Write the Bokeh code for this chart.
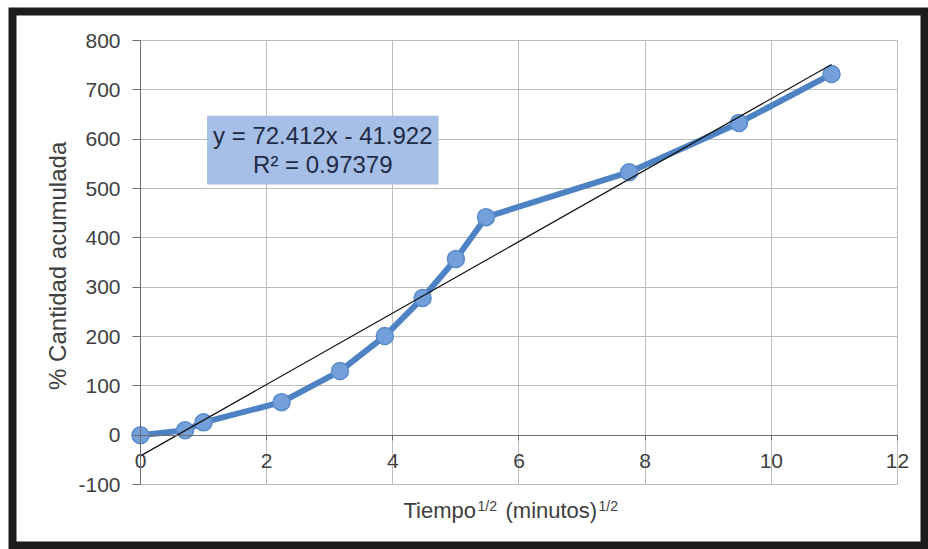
from bokeh.plotting import figure
from bokeh.models import Range1d, Label, FixedTicker, CustomJSTickFormatter, Grid
from bokeh.embed import file_html
from bokeh.resources import INLINE

# ---- data ----
t_sqrt = [0.0, 0.707, 1.0, 2.236, 3.162, 3.873, 4.472, 5.0, 5.477, 7.746, 9.487, 10.954]
cum_pct = [0, 10, 26, 67, 130, 201, 278, 357, 442, 533, 633, 732]
slope = 72.412
intercept = -41.922
r2 = 0.97379
x_ticks = [0, 2, 4, 6, 8, 10, 12]
y_ticks = [-100, 0, 100, 200, 300, 400, 500, 600, 700, 800]
x_lim = (0, 12)
y_lim = (-100, 800)

FONT = "Liberation Sans"
TXT = "#404040"
W, H = 928, 549

# the frame fills the whole card; the axes cross at the origin
p = figure(width=W, height=H, output_backend="svg", toolbar_location=None,
           x_range=Range1d(-2.029, 12.428), y_range=Range1d(-223.6, 858.8),
           min_border_left=12, min_border_right=4, min_border_top=11, min_border_bottom=4)
p.outline_line_color = "#1c1c1c"
p.outline_line_width = 8
p.outline_line_join = "miter"
p.background_fill_color = "white"
p.border_fill_color = "white"

# grids limited to the data box
p.xgrid.ticker = FixedTicker(ticks=x_ticks)
p.ygrid.ticker = FixedTicker(ticks=y_ticks)
has_cross = "cross_bounds" in Grid.properties()
for g, cb in ((p.xgrid, y_lim), (p.ygrid, x_lim)):
    g.grid_line_color = "#bdbdbd"
    g.grid_line_width = 1
    if has_cross:
        g.cross_bounds = cb
    else:
        g.visible = False
if not has_cross:
    p.segment(x0=x_ticks, y0=[y_lim[0]] * len(x_ticks), x1=x_ticks, y1=[y_lim[1]] * len(x_ticks),
              line_color="#bdbdbd", line_width=1)
    p.segment(x0=[x_lim[0]] * len(y_ticks), y0=y_ticks, x1=[x_lim[1]] * len(y_ticks), y1=y_ticks,
              line_color="#bdbdbd", line_width=1)

plain = CustomJSTickFormatter(code="return tick.toString()")

# y axis at x = 0
p.yaxis.fixed_location = 0
p.yaxis.bounds = y_lim
p.yaxis.ticker = FixedTicker(ticks=y_ticks)
p.yaxis.formatter = plain
p.yaxis.axis_label = "%  Cantidad acumulada"
p.yaxis.axis_label_text_font = FONT
p.yaxis.axis_label_text_font_size = "24px"
p.yaxis.axis_label_text_font_style = "normal"
p.yaxis.axis_label_text_color = TXT
p.yaxis.axis_label_standoff = 4
p.yaxis.major_label_text_font = FONT
p.yaxis.major_label_text_font_size = "21px"
p.yaxis.major_label_text_color = TXT
p.yaxis.major_label_standoff = 12
p.yaxis.major_tick_out = 8
p.yaxis.major_tick_in = 0
p.yaxis.minor_tick_line_color = None
p.yaxis.axis_line_color = "#6e6e6e"
p.yaxis.major_tick_line_color = "#6e6e6e"

# x axis at y = 0
p.xaxis.fixed_location = 0
p.xaxis.bounds = x_lim
p.xaxis.ticker = FixedTicker(ticks=x_ticks)
p.xaxis.formatter = plain
p.xaxis.major_label_text_font = FONT
p.xaxis.major_label_text_font_size = "21px"
p.xaxis.major_label_text_color = TXT
p.xaxis.major_label_standoff = 14
p.xaxis.major_tick_out = 5
p.xaxis.major_tick_in = 0
p.xaxis.minor_tick_line_color = None
p.xaxis.axis_line_color = "#6e6e6e"
p.xaxis.major_tick_line_color = "#6e6e6e"

# series
p.line(t_sqrt, cum_pct, line_color="#4d82c4", line_width=6, line_join="round", line_cap="round")
p.scatter(t_sqrt, cum_pct, size=17, fill_color="#73a0da", line_color="#5a8cca", line_width=1.5)

# trend line
tx = [0, max(t_sqrt)]
ty = [slope * v + intercept for v in tx]
p.line(tx, ty, line_color="#111111", line_width=1.2)

# equation box
p.add_layout(Label(x=2.89, y=578, text=f"y = {slope}x - {-intercept}\nR² = {r2}",
                   text_align="center", text_baseline="middle",
                   text_font=FONT, text_font_size="24px", text_color="#1f2a44",
                   background_fill_color="#a6bfe7", padding=6, text_line_height=1.1))

# x axis title with superscripts (canvas units, y measured from the top)
parts = [("Tiempo", 403, 510, 22), ("1/2", 477, 505, 14), ("(minutos)", 505, 510, 22), ("1/2", 598, 505, 14)]
for txt, xx, yy, fs in parts:
    p.add_layout(Label(x=xx, y=yy, x_units="canvas", y_units="canvas", text=txt,
                       text_font=FONT, text_font_size=f"{fs}px", text_color=TXT,
                       text_baseline="alphabetic", text_align="left"))

open("out.html", "w").write(file_html(p, INLINE))
